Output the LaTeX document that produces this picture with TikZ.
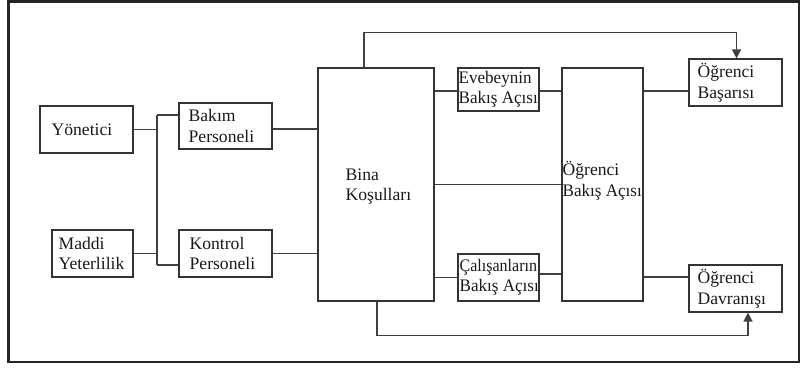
\documentclass[tikz,border=0pt]{standalone}
\usepackage{fontspec}
\setmainfont{Liberation Serif}
\usetikzlibrary{arrows.meta}
\begin{document}
\begin{tikzpicture}[x=1pt,y=-1pt,
  box/.style={draw=black!80, line width=1.1pt, rectangle, inner sep=0pt},
  lbl/.style={inner sep=0pt, align=left, anchor=west, text=black!90,
              font=\fontsize{17.6}{20.5}\selectfont},
  conn/.style={draw=black!75, line width=1.3pt},
  arr/.style={conn, -{Triangle[width=9pt,length=9pt]}}]
\useasboundingbox (0,0) rectangle (804,369);
\draw[black!85, line width=2.5pt] (8.5,1.5) rectangle (799,362);

% boxes (centre, width, height)
\node[box, minimum width=93pt, minimum height=47pt] (yon)  at (86.5,129.5) {};
\node[box, minimum width=81pt, minimum height=47pt] (mad)  at (92.5,253.5) {};
\node[box, minimum width=93pt, minimum height=46pt] (bak)  at (225.5,126) {};
\node[box, minimum width=93pt, minimum height=47pt] (kon)  at (225.5,253.5) {};
\node[box, minimum width=116pt, minimum height=233pt] (bina) at (376,184.5) {};
\node[box, minimum width=81pt, minimum height=43pt] (eve)  at (498.5,89.5) {};
\node[box, minimum width=81pt, minimum height=47pt] (cal)  at (498.5,277.5) {};
\node[box, minimum width=81pt, minimum height=233pt] (obk)  at (602.5,184.5) {};
\node[box, minimum width=93pt, minimum height=47pt] (bas)  at (735.5,82.5) {};
\node[box, minimum width=93pt, minimum height=47pt] (dav)  at (735.5,288.5) {};

% texts
\node[lbl] (tyon)  at ([xshift=12pt]yon.west) {Yönetici};
\node[lbl] (tmad)  at ([xshift=7pt]mad.west) {Maddi\\Yeterlilik};
\node[lbl] (tbak)  at ([xshift=10pt]bak.west) {Bakım\\Personeli};
\node[lbl] (tkon)  at ([xshift=11pt]kon.west) {Kontrol\\Personeli};
\node[lbl] (tbina) at ([xshift=28pt,yshift=-2pt]bina.west) {Bina\\Koşulları};
\node[lbl] (teve)  at ([xshift=1pt]eve.west) {\scalebox{0.97}[1]{Evebeynin}\\\scalebox{0.97}[1]{Bakış Açısı}};
\node[lbl] (tcal)  at ([xshift=2pt]cal.west) {\scalebox{0.91}[1]{Çalışanların}\\\scalebox{0.97}[1]{Bakış Açısı}};
\node[lbl] (tobk)  at ([xshift=1pt,yshift=4pt]obk.west) {Öğrenci\\\scalebox{0.97}[1]{Bakış Açısı}};
\node[lbl] (tbas)  at ([xshift=9pt]bas.west) {Öğrenci\\Başarısı};
\node[lbl] (tdav)  at ([xshift=9pt]dav.west) {Öğrenci\\Davranışı};

% junction
\coordinate (j1) at (157,115);
\coordinate (j2) at (157,265);
\coordinate (pb) at ([yshift=-8.5pt]bas.west);
\coordinate (pd) at ([yshift=11.5pt]dav.west);

\draw[conn] (yon.east) -- (yon.east -| j1);
\draw[conn] (mad.east) -- (mad.east -| j1);
\draw[conn] (j1) -- (j2);
\draw[conn] (j1) -- (j1 -| bak.west);
\draw[conn] (j2) -- (j2 -| kon.west);
\draw[conn] ([yshift=-3pt]bak.east) -- ([yshift=-3pt]bak.east -| bina.west);
\draw[conn] (kon.east) -- (kon.east -| bina.west);

\draw[conn] ([yshift=-1.5pt]eve.west -| bina.east) -- ([yshift=-1.5pt]eve.west);
\draw[conn] ([yshift=-1.5pt]eve.east) -- ([yshift=-1.5pt]eve.east -| obk.west);
\draw[conn] (bina.east) -- (obk.west);
\draw[conn] (cal.west -| bina.east) -- (cal.west);
\draw[conn] ([yshift=3.5pt]cal.east) -- ([yshift=3.5pt]cal.east -| obk.west);
\draw[conn] (pb -| obk.east) -- (pb);
\draw[conn] (pd -| obk.east) -- (pd);

\draw[arr] ([xshift=-12pt]bina.north) -- ++(0,-35) -| ([xshift=1pt]bas.north);
\draw[arr] ([xshift=1pt]bina.south) -- ++(0,34) -| ([xshift=12.5pt]dav.south);
\end{tikzpicture}
\end{document}
